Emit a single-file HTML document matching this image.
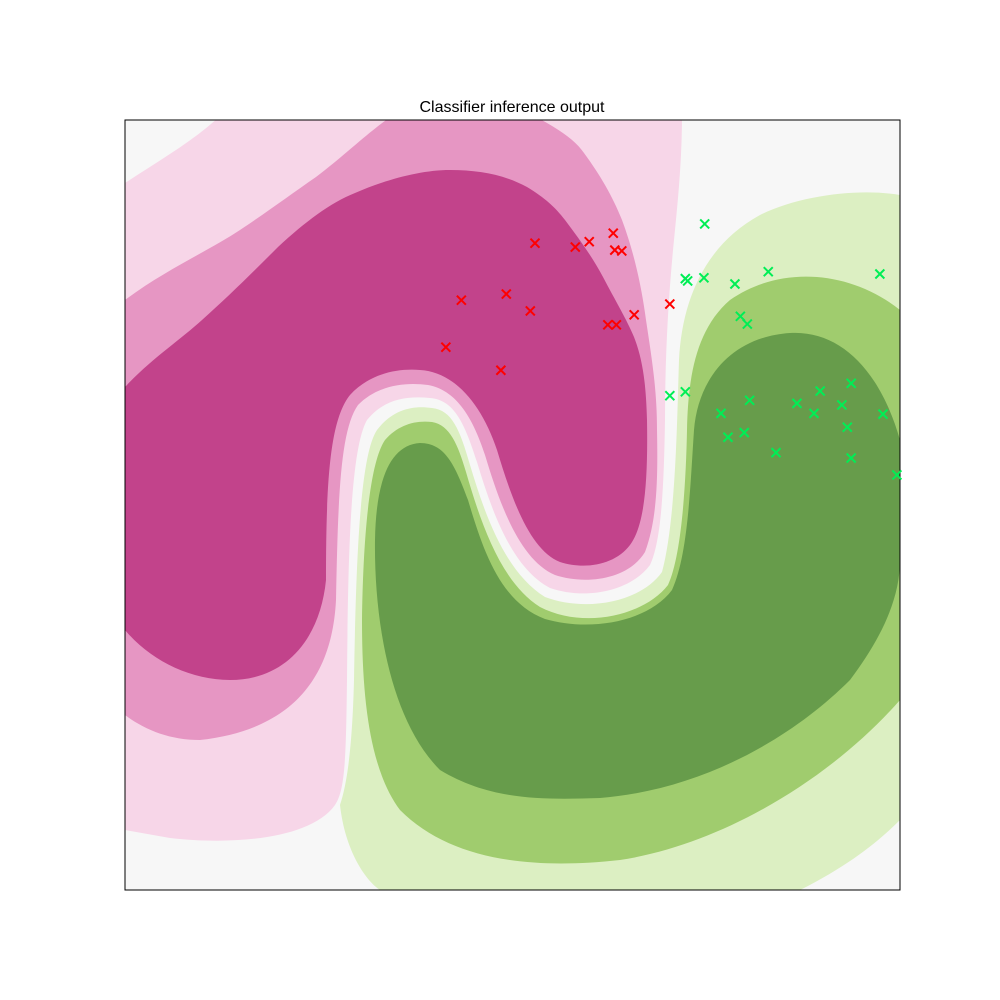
<!DOCTYPE html>
<html><head><meta charset="utf-8"><style>
body{margin:0;background:#fff;}
svg{display:block;font-family:"Liberation Sans",sans-serif;}
</style></head><body>
<svg width="1000" height="1000" viewBox="0 0 1000 1000">
<defs><clipPath id="pc"><rect x="125" y="120" width="775" height="770"/></clipPath></defs>
<text x="512" y="112" text-anchor="middle" font-size="16" fill="#000">Classifier inference output</text>
<g clip-path="url(#pc)">
<rect x="125" y="120" width="775" height="770" fill="#f7f7f7"/>
<path fill="#f7d6e8" d="M125,183 C160,160 195,140 221,115 L682,115 C682,160 678,200 674,240 C668,300 665,360 665,420 C664,480 662,540 650,565 C630,592 585,600 550,588 C512,568 492,512 477,462 C465,425 455,400 430,398 C408,396 385,398 367,420 C350,450 348,560 347,680 C346,760 345,790 335,805 C310,840 230,845 170,838 L125,830 Z"/>
<path fill="#e696c3" d="M125,300 C165,270 210,250 240,230 C270,210 290,195 316,177 C345,155 365,135 389,118 L538,118 C560,130 575,140 584,153 C600,175 612,195 622,220 C635,255 642,290 646,320 C652,360 657,390 657,430 C658,480 657,520 645,552 C628,580 585,585 555,575 C520,560 500,505 485,455 C472,415 455,390 428,385 C405,382 378,385 358,405 C340,430 338,500 336,600 C332,680 290,730 200,740 C170,740 145,730 125,715 Z"/>
<path fill="#c2438b" d="M125,387 C150,360 180,340 202,320 C230,295 255,270 278,247 C305,222 330,203 355,193 C385,180 420,170 450,170 C480,170 505,175 527,187 C545,198 555,207 565,220 C580,240 593,258 603,277 C615,300 627,320 634,337 C643,360 646,385 647,420 C648,480 645,525 630,545 C615,565 585,570 560,562 C530,550 512,500 497,450 C482,405 455,372 420,370 C395,368 368,375 350,395 C330,420 326,480 326,580 C320,640 285,680 230,680 C190,680 150,660 125,630 Z"/>
<path fill="#dcefc2" d="M900,195 C860,188 800,195 760,215 C705,245 682,300 679,360 C677,420 676,520 662,572 C640,603 585,612 545,597 C505,572 485,515 470,465 C460,430 452,410 432,408 C412,405 392,410 377,430 C360,455 356,560 354,680 C352,760 345,790 340,805 C345,850 365,880 380,890 L800,890 C850,865 880,840 900,820 Z"/>
<path fill="#a0cc6e" d="M900,310 C850,270 780,265 730,300 C695,330 688,380 687,430 C686,480 682,555 668,585 C645,615 585,630 540,607 C500,582 480,520 466,472 C458,445 450,425 432,422 C415,420 398,425 385,440 C368,465 363,550 362,620 C362,700 370,770 400,810 C450,860 530,870 620,860 C720,845 830,780 900,700 Z"/>
<path fill="#679c4b" d="M900,440 C880,370 840,330 790,333 C730,337 698,380 694,430 C690,490 688,555 672,590 C648,622 590,632 545,619 C500,602 483,550 468,500 C455,465 445,443 420,443 C390,445 376,480 375,540 C374,620 390,720 440,770 C490,800 540,800 600,798 C700,790 790,740 850,680 C880,640 900,600 900,560 Z"/>
</g>
<rect x="125" y="120" width="775" height="770" fill="none" stroke="#000" stroke-width="1"/>
<g id="pts"></g>
</svg>
<script>
const redX=[52.9,58.1,59.9,63.0,63.2,64.1,43.4,49.2,52.3,62.3,63.4,65.7,41.4,48.5,70.3];
const redY=[84.0,83.5,84.2,85.3,83.1,83.0,76.6,77.4,75.2,73.4,73.4,74.7,70.5,67.5,76.1];
const greenX=[74.8,72.3,72.6,74.7,78.7,83.0,97.4,79.4,80.3,70.3,72.3,76.9,80.6,77.8,79.9,86.7,89.7,88.9,92.5,93.7,93.2,97.8,93.7,84.0,99.6];
const greenY=[86.5,79.4,79.1,79.5,78.7,80.3,80.0,74.5,73.5,64.2,64.7,61.9,63.6,58.8,59.4,63.2,64.8,61.9,63.0,65.8,60.1,61.8,56.1,56.8,53.9];
function sx(v){return 125+v*7.75;}
function sy(v){return 890-v*7.7;}
var g=document.getElementById('pts');
var NS='http://www.w3.org/2000/svg';
function draw(xs,ys,color,name){
  for(var i=0;i<xs.length;i++){
    var cx=sx(xs[i]),cy=sy(ys[i]),r=4.5;
    var p=document.createElementNS(NS,'path');
    p.setAttribute('d','M'+(cx-r)+','+(cy-r)+'L'+(cx+r)+','+(cy+r)+'M'+(cx-r)+','+(cy+r)+'L'+(cx+r)+','+(cy-r));
    p.setAttribute('stroke',color);
    p.setAttribute('stroke-width','2');
    p.setAttribute('fill','none');
    
    
    g.appendChild(p);
  }
}
draw(redX,redY,'#ff0000','red-class-point');
draw(greenX,greenY,'#00ee55','green-class-point');
</script>
</body></html>
